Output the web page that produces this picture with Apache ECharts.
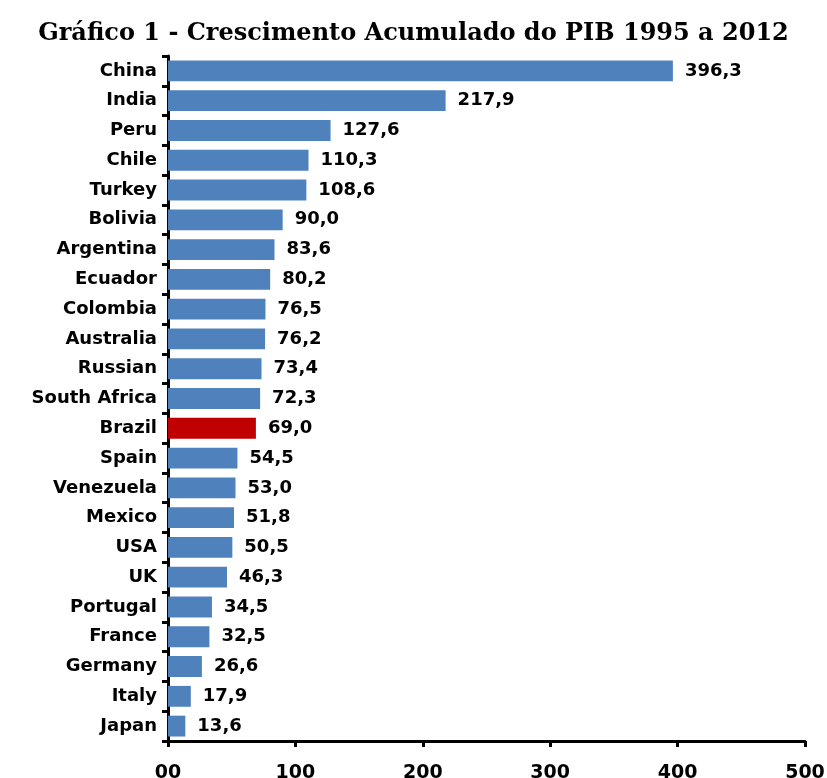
<!DOCTYPE html>
<html><head><meta charset="utf-8">
<script src="https://cdn.jsdelivr.net/npm/echarts@6/dist/echarts.min.js"></script>
<style>html,body{margin:0;padding:0;background:#fff}#c{width:827px;height:778px}</style>
</head><body><div id="c"></div>
<script>
const categories = ["China","India","Peru","Chile","Turkey","Bolivia","Argentina","Ecuador","Colombia","Australia","Russian","South Africa","Brazil","Spain","Venezuela","Mexico","USA","UK","Portugal","France","Germany","Italy","Japan"];
const values = [396.3,217.9,127.6,110.3,108.6,90.0,83.6,80.2,76.5,76.2,73.4,72.3,69.0,54.5,53.0,51.8,50.5,46.3,34.5,32.5,26.6,17.9,13.6];
const highlight = "Brazil";
const title = "Gráfico 1 - Crescimento Acumulado do PIB 1995 a 2012";

const chart = echarts.init(document.getElementById('c'));
chart.setOption({
  animation:false,
  backgroundColor:'#fff',
  title:{text:title,left:'center',top:17,textStyle:{fontFamily:'DejaVu Serif',fontWeight:'bold',fontSize:24,color:'#000'}},
  grid:{left:168,right:22,top:56,bottom:37,outerBoundsMode:'none',containLabel:false},
  xAxis:{type:'value',min:0,max:500,interval:100,
    axisLine:{show:true,lineStyle:{color:'#000',width:3}},
    axisTick:{show:true,length:6,lineStyle:{color:'#000',width:3}},
    splitLine:{show:false},
    axisLabel:{margin:23,fontFamily:'DejaVu Sans',fontWeight:'bold',fontSize:19,color:'#000',formatter:v=>v===0?'00':String(v)}},
  yAxis:{type:'category',inverse:true,data:categories,
    axisLine:{show:true,lineStyle:{color:'#000',width:3}},
    axisTick:{show:true,length:6,lineStyle:{color:'#000',width:3}},
    axisLabel:{margin:11,fontFamily:'DejaVu Sans',fontWeight:'bold',fontSize:18,color:'#000'}},
  series:[{type:'bar',barCategoryGap:'30%',
    data:values.map((v,i)=>({value:v,itemStyle:{color:categories[i]===highlight?'#c00000':'#4f81bd'}})),
    label:{show:true,position:'right',distance:12,fontFamily:'DejaVu Sans',fontWeight:'bold',fontSize:18,color:'#000',formatter:p=>p.value.toFixed(1).replace('.',',')}}]
});
</script></body></html>
